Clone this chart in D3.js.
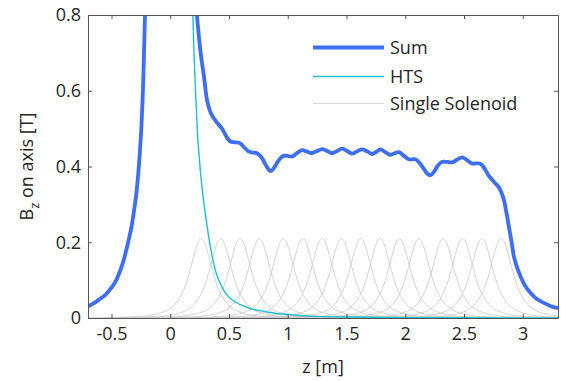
<!DOCTYPE html>
<html>
<head>
<meta charset="utf-8">
<script src="https://cdn.jsdelivr.net/npm/d3@7"></script>
<style>
  html, body { margin: 0; padding: 0; background: #fff; }
  text { font-family: "Open Sans", Lato, sans-serif; fill: #262626; }
</style>
</head>
<body>
<svg id="chart" width="567" height="381"></svg>
<script>
// ---------- data ----------
const xTicks = [-0.5, 0, 0.5, 1, 1.5, 2, 2.5, 3];
const xTickLabels = ["-0.5", "0", "0.5", "1", "1.5", "2", "2.5", "3"];
const yTicks = [0, 0.2, 0.4, 0.6, 0.8];
const yTickLabels = ["0", "0.2", "0.4", "0.6", "0.8"];
const seriesNames = ["Sum", "HTS", "Single Solenoid"];

// centres of the 16 single solenoids [m]
const solenoidCenters = [0.264, 0.429, 0.594, 0.758, 0.962, 1.127, 1.292, 1.457,
                         1.621, 1.786, 1.951, 2.116, 2.323, 2.487, 2.652, 2.817];
// on-axis profile of one solenoid: offset from centre [m] and Bz [T]
const profileOffsets = [-1.0, -0.7, -0.5, -0.4, -0.3, -0.25, -0.2, -0.15, -0.125, -0.1, -0.075, -0.05, -0.025, 0,
                        0.025, 0.05, 0.075, 0.1, 0.125, 0.15, 0.2, 0.25, 0.3, 0.4, 0.5, 0.7, 1.0];
const profileValues  = [0.0007, 0.0019, 0.0050, 0.0091, 0.0188, 0.0286, 0.0454, 0.0742, 0.0952, 0.1210, 0.1503, 0.1793, 0.2015, 0.21,
                        0.2015, 0.1793, 0.1503, 0.1210, 0.0952, 0.0742, 0.0454, 0.0286, 0.0188, 0.0091, 0.0050, 0.0019, 0.0007];

// HTS coil field
const htsZ = [-0.70, -0.65, -0.60, -0.55, -0.50, -0.46, -0.42, -0.39, -0.36, -0.33, -0.31, -0.29, -0.27, -0.25, -0.235, -0.225, -0.215, -0.205,
              0.17, 0.19, 0.20, 0.215, 0.23, 0.245, 0.264, 0.28, 0.298, 0.32, 0.341, 0.369, 0.39, 0.412, 0.445, 0.483, 0.53,
              0.596, 0.68, 0.795, 0.90, 1.02, 1.2, 1.5, 2.0, 2.5, 3.3];
const htsB = [0.029, 0.037, 0.048, 0.060, 0.078, 0.098, 0.128, 0.158, 0.196, 0.238, 0.278, 0.323, 0.388, 0.478, 0.578, 0.678, 0.80, 0.95,
              1.0, 0.83, 0.72, 0.60, 0.50, 0.43, 0.364, 0.32, 0.277, 0.23, 0.189, 0.145, 0.12, 0.101, 0.079, 0.061, 0.047,
              0.035, 0.025, 0.0175, 0.012, 0.009, 0.005, 0.0025, 0.001, 0.0005, 0.0002];

// total field (sum)
const sumZ = [-0.70, -0.65, -0.60, -0.55, -0.50, -0.46, -0.42, -0.39, -0.36, -0.33, -0.31, -0.29, -0.27, -0.25, -0.235, -0.225, -0.215, -0.205,
              0.20, 0.215, 0.227, 0.256, 0.29, 0.313, 0.34, 0.369, 0.40, 0.44, 0.48, 0.511, 0.55, 0.596, 0.63, 0.667, 0.70,
              0.738, 0.781, 0.82, 0.855, 0.88, 0.909, 0.94, 0.965, 1.0, 1.036, 1.08, 1.122, 1.16, 1.20, 1.245, 1.292,
              1.335, 1.377, 1.42, 1.462, 1.505, 1.547, 1.59, 1.633, 1.675, 1.718, 1.755, 1.789, 1.83, 1.874, 1.91, 1.945,
              1.99, 2.03, 2.06, 2.087, 2.12, 2.16, 2.19, 2.215, 2.245, 2.272, 2.30, 2.328, 2.36, 2.399, 2.44, 2.484,
              2.52, 2.569, 2.60, 2.641, 2.68, 2.712, 2.76, 2.797, 2.82, 2.839, 2.86, 2.882, 2.905, 2.925, 2.95, 2.981,
              3.02, 3.066, 3.12, 3.179, 3.25, 3.30];
const sumB = [0.031, 0.039, 0.050, 0.062, 0.080, 0.100, 0.130, 0.160, 0.198, 0.240, 0.280, 0.325, 0.390, 0.480, 0.580, 0.680, 0.80, 0.95,
              1.0, 0.85, 0.80, 0.707, 0.63, 0.575, 0.545, 0.528, 0.515, 0.500, 0.478, 0.466, 0.464, 0.461, 0.450, 0.440, 0.437,
              0.435, 0.422, 0.400, 0.388, 0.395, 0.410, 0.423, 0.428, 0.428, 0.426, 0.436, 0.443, 0.440, 0.435, 0.440, 0.446,
              0.441, 0.435, 0.441, 0.447, 0.441, 0.434, 0.440, 0.445, 0.440, 0.433, 0.439, 0.445, 0.438, 0.431, 0.435, 0.438,
              0.428, 0.419, 0.419, 0.419, 0.410, 0.393, 0.380, 0.377, 0.386, 0.400, 0.410, 0.413, 0.412, 0.411, 0.418, 0.424,
              0.418, 0.408, 0.408, 0.407, 0.392, 0.375, 0.358, 0.345, 0.330, 0.312, 0.280, 0.241, 0.200, 0.162, 0.135, 0.110,
              0.085, 0.066, 0.050, 0.040, 0.030, 0.026];

// ---------- chart ----------
const FONT = "'Open Sans', Lato, sans-serif";
const svg = d3.select("#chart");
const L = 88, R = 558, T = 15, B = 318;
const x = d3.scaleLinear().domain([-0.7, 3.3]).range([L, R]);
const y = d3.scaleLinear().domain([0, 0.8]).range([B, T]);

svg.append("defs").append("clipPath").attr("id", "clip")
  .append("rect").attr("x", L).attr("y", T).attr("width", R - L).attr("height", B - T);

const line = d3.line().x(d => x(d[0])).y(d => y(d[1])).curve(d3.curveCatmullRom.alpha(0.5));
const plot = svg.append("g").attr("clip-path", "url(#clip)");

// single solenoids
solenoidCenters.forEach(c => {
  const pts = profileOffsets.map((o, i) => [c + o, profileValues[i]]);
  plot.append("path").attr("d", line(pts)).attr("fill", "none")
    .attr("stroke", "#c9c9c9").attr("stroke-width", 0.8);
});
// HTS
plot.append("path").attr("d", line(htsZ.map((z, i) => [z, htsB[i]]))).attr("fill", "none")
  .attr("stroke", "#1cc0d4").attr("stroke-width", 1.4);
// Sum
plot.append("path").attr("d", line(sumZ.map((z, i) => [z, sumB[i]]))).attr("fill", "none")
  .attr("stroke", "#3c6ef6").attr("stroke-width", 3.8).attr("stroke-linejoin", "round");

// axes (box with inward ticks)
const axisColor = "#555";
const tl = 4;
const gx = svg.append("g").attr("transform", `translate(0,${B})`)
  .call(d3.axisBottom(x).tickValues(xTicks).tickFormat((d, i) => xTickLabels[i]).tickSizeInner(-tl).tickSizeOuter(0).tickPadding(9));
const gxt = svg.append("g").attr("transform", `translate(0,${T})`)
  .call(d3.axisTop(x).tickValues(xTicks).tickFormat("").tickSizeInner(-tl).tickSizeOuter(0));
const gy = svg.append("g").attr("transform", `translate(${L},0)`)
  .call(d3.axisLeft(y).tickValues(yTicks).tickFormat((d, i) => yTickLabels[i]).tickSizeInner(-tl).tickSizeOuter(0).tickPadding(7));
const gyr = svg.append("g").attr("transform", `translate(${R},0)`)
  .call(d3.axisRight(y).tickValues(yTicks).tickFormat("").tickSizeInner(-tl).tickSizeOuter(0));
[gx, gxt, gy, gyr].forEach(g => {
  g.selectAll("path.domain").attr("stroke", axisColor).attr("stroke-width", 1);
  g.selectAll(".tick line").attr("stroke", axisColor);
  g.selectAll("text").attr("font-family", FONT).attr("font-size", 18).attr("fill", "#262626");
});

// axis labels
svg.append("text").attr("x", (L + R) / 2).attr("y", 373).attr("text-anchor", "middle")
  .attr("font-size", 18).text("z [m]");
const yl = svg.append("text").attr("transform", `translate(33,${(T + B) / 2}) rotate(-90)`)
  .attr("text-anchor", "middle").attr("font-size", 18);
yl.append("tspan").text("B");
yl.append("tspan").attr("font-size", 13).attr("dy", 6).text("z");
yl.append("tspan").attr("dy", -6).text(" on axis [T]");

// legend
const legColors = ["#3c6ef6", "#1cc0d4", "#d9d9d9"];
const legWidths = [3.8, 1.4, 1];
const legY = [47.5, 76.5, 103.5];
seriesNames.forEach((n, i) => {
  svg.append("line").attr("x1", 313).attr("x2", 384).attr("y1", legY[i]).attr("y2", legY[i])
    .attr("stroke", legColors[i]).attr("stroke-width", legWidths[i]);
  svg.append("text").attr("x", 390).attr("y", legY[i] + 6.5).attr("font-size", 18).text(n);
});
</script>
</body>
</html>
